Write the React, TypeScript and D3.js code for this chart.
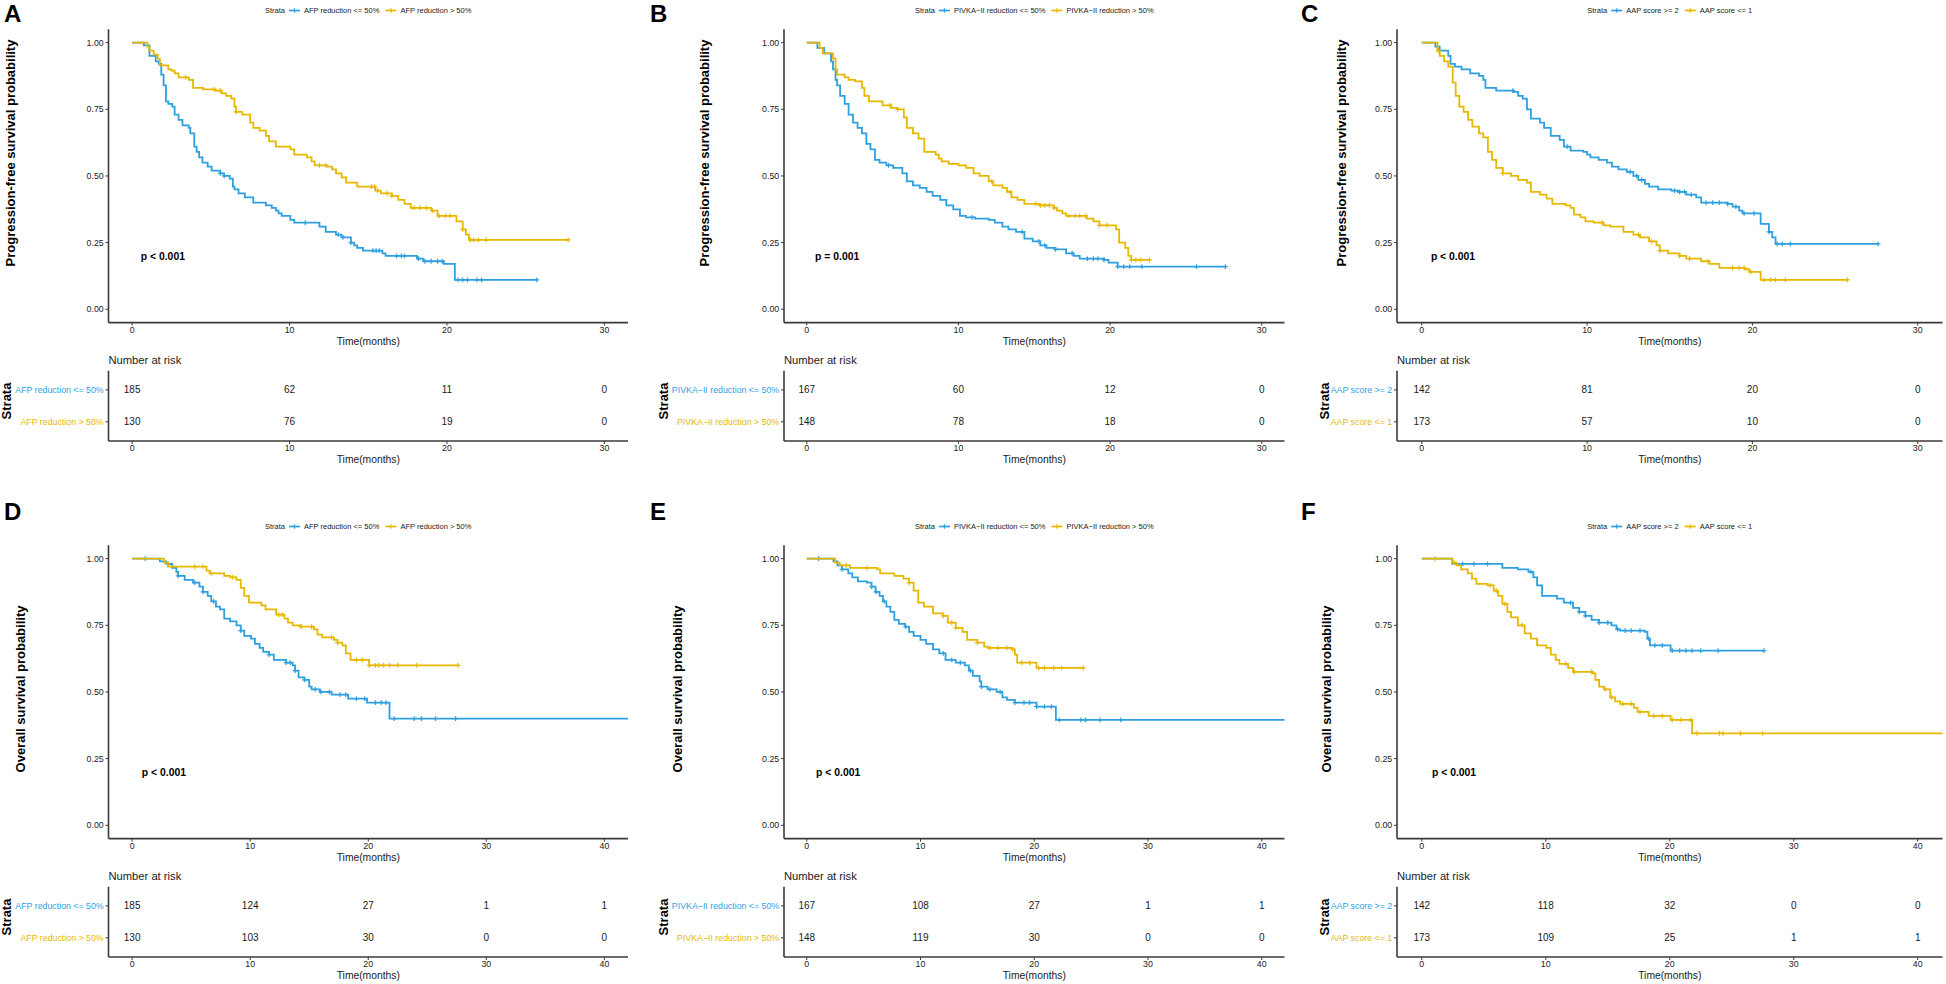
import React from "react";
import * as d3 from "d3";

type Pt = [number, number];

const BLUE = "#2E9FDF";
const GOLD = "#E7B800";
const FONT = '"Liberation Sans", Arial, Helvetica, sans-serif';

// ---- progression-free survival curves: [time (months), survival after the step]
const pfsAfpLow: Pt[] = [[0,1],[0.75,0.99],[1.1,0.95],[1.5,0.93],[1.7,0.92],[1.85,0.88],[2.0,0.84],[2.15,0.78],[2.3,0.77],[2.55,0.76],[2.7,0.73],[2.95,0.71],[3.2,0.69],[3.6,0.68],[3.7,0.66],[3.95,0.61],[4.1,0.59],[4.26,0.57],[4.47,0.55],[4.8,0.535],[5.05,0.52],[5.6,0.51],[5.84,0.5],[6.2,0.49],[6.4,0.46],[6.5,0.45],[6.76,0.435],[7.16,0.42],[7.7,0.4],[8.5,0.39],[8.87,0.38],[9.13,0.37],[9.3,0.36],[9.5,0.35],[10.05,0.335],[10.3,0.325],[11.9,0.31],[12.3,0.29],[12.95,0.28],[13.3,0.27],[13.9,0.25],[14.1,0.24],[14.3,0.23],[14.66,0.22],[15.9,0.21],[16.1,0.2],[18.1,0.19],[18.5,0.18],[19.8,0.17],[20.5,0.11],[25.7,0.11]];
const pfsAfpHigh: Pt[] = [[0,1],[0.97,0.985],[1.1,0.97],[1.37,0.955],[1.63,0.94],[1.76,0.915],[2.3,0.9],[2.5,0.895],[2.7,0.885],[2.95,0.87],[3.6,0.86],[3.87,0.83],[4.5,0.825],[5.3,0.82],[5.7,0.81],[5.97,0.8],[6.3,0.79],[6.5,0.76],[6.6,0.74],[7.0,0.73],[7.5,0.7],[7.7,0.68],[8.1,0.67],[8.5,0.65],[8.7,0.63],[9.13,0.61],[10.05,0.6],[10.3,0.58],[11.1,0.57],[11.4,0.555],[11.6,0.54],[12.4,0.535],[12.7,0.525],[12.95,0.51],[13.3,0.495],[13.6,0.475],[14.3,0.46],[15.45,0.445],[15.8,0.435],[16.5,0.425],[16.9,0.41],[17.3,0.395],[17.7,0.38],[19.0,0.37],[19.4,0.35],[20.6,0.33],[21.0,0.3],[21.2,0.28],[21.4,0.26],[27.7,0.26]];
const pfsPivLow: Pt[] = [[0,1],[0.7,0.98],[1.15,0.96],[1.6,0.93],[1.73,0.9],[1.9,0.86],[2.0,0.84],[2.2,0.8],[2.5,0.77],[2.76,0.73],[3.05,0.7],[3.35,0.68],[3.64,0.66],[3.93,0.62],[4.2,0.6],[4.5,0.56],[4.8,0.55],[5.25,0.54],[5.7,0.53],[6.3,0.51],[6.6,0.48],[7.0,0.465],[7.45,0.455],[7.9,0.44],[8.3,0.425],[8.8,0.41],[9.2,0.39],[9.66,0.375],[10.1,0.35],[10.5,0.345],[11.1,0.34],[12.0,0.335],[12.4,0.325],[12.9,0.31],[13.3,0.3],[13.8,0.29],[14.35,0.265],[14.9,0.255],[15.4,0.24],[15.8,0.23],[16.4,0.225],[17.1,0.21],[17.6,0.2],[18.0,0.19],[19.6,0.185],[19.9,0.175],[20.5,0.16],[27.6,0.16]];
const pfsPivHigh: Pt[] = [[0,1],[0.85,0.98],[1.05,0.96],[1.73,0.94],[1.9,0.9],[2.0,0.88],[2.5,0.87],[2.76,0.86],[3.2,0.855],[3.64,0.83],[3.8,0.8],[4.1,0.78],[5.0,0.765],[5.55,0.755],[6.0,0.75],[6.4,0.72],[6.6,0.68],[7.0,0.66],[7.37,0.64],[7.75,0.59],[8.5,0.58],[8.7,0.565],[8.9,0.555],[9.36,0.545],[10.0,0.54],[10.5,0.53],[11.0,0.51],[11.4,0.5],[12.0,0.48],[12.3,0.465],[12.9,0.455],[13.2,0.44],[13.5,0.42],[13.9,0.41],[14.35,0.395],[15.4,0.39],[16.3,0.38],[16.5,0.37],[16.85,0.36],[17.1,0.35],[18.46,0.34],[18.9,0.33],[19.3,0.315],[20.4,0.3],[20.6,0.25],[21.0,0.23],[21.2,0.2],[21.4,0.185],[22.6,0.185]];
const pfsAapHigh: Pt[] = [[0,1],[0.82,0.985],[1.08,0.97],[1.6,0.95],[1.74,0.92],[2.0,0.91],[2.4,0.9],[2.93,0.885],[3.46,0.875],[3.72,0.86],[3.85,0.83],[4.5,0.82],[5.57,0.815],[5.83,0.8],[6.1,0.79],[6.36,0.75],[6.6,0.715],[7.15,0.7],[7.4,0.68],[7.8,0.65],[8.34,0.635],[8.6,0.61],[9.0,0.595],[9.77,0.59],[10.0,0.58],[10.2,0.57],[10.7,0.56],[11.2,0.55],[11.5,0.535],[11.9,0.525],[12.4,0.515],[12.8,0.5],[13.1,0.485],[13.5,0.47],[13.75,0.46],[14.3,0.45],[15.1,0.445],[15.5,0.44],[16.0,0.43],[16.6,0.42],[16.9,0.4],[18.5,0.395],[18.8,0.385],[19.2,0.37],[19.4,0.36],[20.5,0.32],[21.0,0.29],[21.2,0.27],[21.4,0.245],[27.6,0.245]];
const pfsAapLow: Pt[] = [[0,1],[0.95,0.97],[1.08,0.95],[1.35,0.93],[1.6,0.91],[1.87,0.85],[2.05,0.8],[2.27,0.76],[2.53,0.74],[2.8,0.71],[3.06,0.685],[3.46,0.66],[3.72,0.645],[4.0,0.59],[4.25,0.56],[4.5,0.53],[4.9,0.51],[5.4,0.5],[5.83,0.485],[6.36,0.475],[6.6,0.44],[7.15,0.43],[7.55,0.415],[7.9,0.395],[8.7,0.39],[9.0,0.38],[9.2,0.355],[9.6,0.345],[9.9,0.33],[10.4,0.325],[11.0,0.315],[11.4,0.31],[12.2,0.29],[12.8,0.28],[13.2,0.27],[13.75,0.255],[14.2,0.24],[14.4,0.22],[14.9,0.21],[15.6,0.2],[16.0,0.19],[16.9,0.18],[17.4,0.17],[18.0,0.155],[19.55,0.15],[19.8,0.14],[20.5,0.11],[25.75,0.11]];

// ---- overall survival curves
const osAfpLow: Pt[] = [[0,1],[2.35,0.99],[2.9,0.98],[3.4,0.965],[3.75,0.95],[3.9,0.935],[4.45,0.92],[5.16,0.91],[5.7,0.895],[6.0,0.875],[6.4,0.86],[6.7,0.84],[7.1,0.82],[7.44,0.81],[7.8,0.775],[8.3,0.765],[8.84,0.75],[9.2,0.73],[9.5,0.71],[10.07,0.7],[10.4,0.68],[10.8,0.665],[11.1,0.65],[11.6,0.64],[12.0,0.62],[13.05,0.61],[13.6,0.6],[13.8,0.58],[14.1,0.555],[14.6,0.545],[15.0,0.52],[15.2,0.51],[15.9,0.5],[16.9,0.49],[18.3,0.475],[19.9,0.46],[21.8,0.4],[42,0.4]];
const osAfpHigh: Pt[] = [[0,1],[2.7,0.985],[3.05,0.97],[6.3,0.955],[6.56,0.945],[7.8,0.935],[8.3,0.93],[8.84,0.92],[9.2,0.89],[9.5,0.86],[9.9,0.835],[10.95,0.825],[11.3,0.81],[12.2,0.79],[12.9,0.775],[13.2,0.76],[13.6,0.75],[14.3,0.745],[15.4,0.735],[15.7,0.715],[16.1,0.705],[17.1,0.695],[17.4,0.685],[17.8,0.675],[18.1,0.645],[18.5,0.62],[20.07,0.6],[27.6,0.6]];
const osPivLow: Pt[] = [[0,1],[2.35,0.99],[2.7,0.975],[3.1,0.96],[3.65,0.945],[4.0,0.93],[4.5,0.915],[5.3,0.91],[5.7,0.895],[6.05,0.875],[6.4,0.86],[6.7,0.84],[7.0,0.82],[7.35,0.8],[7.7,0.77],[8.1,0.755],[8.65,0.745],[9.0,0.725],[9.4,0.71],[10.0,0.695],[10.5,0.68],[11.1,0.66],[11.65,0.645],[12.2,0.62],[13.1,0.61],[13.9,0.6],[14.25,0.58],[14.6,0.56],[15.2,0.54],[15.35,0.52],[15.9,0.51],[16.7,0.5],[17.2,0.48],[17.6,0.47],[18.3,0.46],[20.2,0.445],[21.9,0.395],[42,0.395]];
const osPivHigh: Pt[] = [[0,1],[2.5,0.985],[2.9,0.975],[3.8,0.965],[6.2,0.96],[6.45,0.945],[7.7,0.935],[8.5,0.925],[9.0,0.91],[9.4,0.88],[9.8,0.835],[10.3,0.82],[11.1,0.795],[12.0,0.785],[12.4,0.76],[13.1,0.74],[13.7,0.725],[14.1,0.695],[15.0,0.685],[15.6,0.67],[15.9,0.665],[18.1,0.66],[18.3,0.64],[18.5,0.61],[20.2,0.59],[24.3,0.59]];
const osAapHigh: Pt[] = [[0,1],[2.46,0.98],[6.5,0.965],[7.75,0.96],[8.6,0.95],[9.0,0.93],[9.3,0.9],[9.7,0.86],[10.9,0.85],[11.45,0.835],[12.2,0.815],[12.7,0.8],[13.2,0.785],[13.7,0.77],[14.3,0.76],[15.3,0.75],[15.7,0.735],[16.0,0.73],[18.0,0.725],[18.2,0.7],[18.4,0.675],[20.07,0.655],[27.6,0.655]];
const osAapLow: Pt[] = [[0,1],[2.46,0.985],[2.8,0.975],[3.17,0.96],[3.7,0.945],[4.05,0.925],[4.4,0.905],[5.3,0.9],[5.8,0.88],[6.15,0.86],[6.5,0.83],[6.9,0.8],[7.2,0.78],[7.75,0.75],[8.3,0.72],[8.8,0.7],[9.3,0.675],[10.04,0.665],[10.4,0.64],[10.8,0.62],[11.1,0.605],[11.8,0.59],[12.2,0.575],[13.8,0.57],[14.0,0.545],[14.3,0.52],[14.7,0.51],[15.2,0.48],[15.6,0.465],[16.0,0.455],[17.1,0.44],[17.4,0.425],[18.3,0.41],[20.07,0.395],[21.8,0.345],[42,0.345]];

// ---- censoring times (months)
const pfsAfpLowCens = [5.6,5.85,11.0,13.1,13.4,13.9,15.3,15.5,15.7,16.8,17.1,17.3,18.2,18.6,19.0,19.4,19.7,20.7,21.0,21.3,21.9,22.2,25.7];
const pfsAfpHighCens = [3.4,5.2,5.6,6.6,11.9,12.3,15.2,15.4,15.6,16.2,16.5,17.9,18.3,18.7,19.1,19.5,19.9,20.2,21.0,21.5,21.7,22.0,22.5,27.7];
const pfsPivLowCens = [5.4,10.9,14.2,15.3,15.7,16.4,17.5,18.5,18.9,19.2,19.6,20.5,20.9,21.3,22.1,25.7,27.6];
const pfsPivHighCens = [5.5,6.0,12.2,13.4,15.1,15.4,15.7,16.0,16.3,17.3,17.7,18.0,18.4,19.3,19.8,21.4,21.7,22.0,22.6];
const pfsAapHighCens = [5.5,8.8,12.6,13.0,13.3,15.3,15.6,15.9,16.3,17.2,17.6,18.0,18.5,19.0,19.5,20.1,21.0,21.5,21.8,22.3,27.6];
const pfsAapLowCens = [1.0,4.9,10.9,13.1,13.9,14.4,15.6,16.2,17.3,18.8,19.2,19.5,19.9,20.7,21.1,21.4,22.0,25.75];
const osAfpLowCens = [1.1,3.05,3.9,5.3,6.0,6.9,9.2,11.6,13.05,13.4,13.8,14.6,15.5,16.0,16.7,17.6,18.1,19.0,19.7,20.6,21.1,21.5,22.2,23.9,24.5,25.7,27.4];
const osAfpHighCens = [5.3,6.0,6.7,8.5,12.4,12.7,14.3,15.2,16.9,17.4,19.0,19.5,20.1,20.6,20.9,21.3,21.8,22.5,24.1,27.6];
const osPivLowCens = [1.04,3.1,5.7,6.1,6.8,8.7,12.0,12.75,13.5,14.4,15.35,16.1,17.0,18.3,19.1,19.6,20.2,20.9,21.5,22.2,24.1,24.5,25.8,27.6];
const osPivHighCens = [3.46,5.3,9.0,12.0,12.75,13.1,15.0,16.1,16.8,17.6,18.1,18.9,19.6,20.4,20.9,21.7,22.4,24.3];
const osAapHighCens = [3.3,4.2,5.3,8.8,12.0,12.7,13.2,14.3,15.0,15.8,16.4,16.9,17.6,18.3,18.8,19.4,20.2,20.8,21.3,21.8,22.5,23.9,27.6];
const osAapLowCens = [1.06,2.6,5.5,6.0,6.7,8.1,11.6,12.3,13.7,14.8,15.3,16.2,16.9,17.6,18.7,19.4,20.2,20.9,21.7,22.2,24.0,24.3,25.7,27.5];

// ---- number at risk
const riskPfsAfp = [[185, 62, 11, 0], [130, 76, 19, 0]];
const riskPfsPiv = [[167, 60, 12, 0], [148, 78, 18, 0]];
const riskPfsAap = [[142, 81, 20, 0], [173, 57, 10, 0]];
const riskOsAfp = [[185, 124, 27, 1, 1], [130, 103, 30, 0, 0]];
const riskOsPiv = [[167, 108, 27, 1, 1], [148, 119, 30, 0, 0]];
const riskOsAap = [[142, 118, 32, 0, 0], [173, 109, 25, 1, 1]];

const strataAfp = ["AFP reduction <= 50%", "AFP reduction > 50%"];
const strataPiv = ["PIVKA\u2212II reduction <= 50%", "PIVKA\u2212II reduction > 50%"];
const strataAap = ["AAP score >= 2", "AAP score <= 1"];

const pfsTicks = [0, 10, 20, 30];
const osTicks = [0, 10, 20, 30, 40];
const survTicks = [0, 0.25, 0.5, 0.75, 1];

const panels = [
    { letter: "A", col: 0, row: 0, strata: strataAfp, curves: [pfsAfpLow, pfsAfpHigh], cens: [pfsAfpLowCens, pfsAfpHighCens], risk: riskPfsAfp, pval: "p < 0.001" },
    { letter: "B", col: 1, row: 0, strata: strataPiv, curves: [pfsPivLow, pfsPivHigh], cens: [pfsPivLowCens, pfsPivHighCens], risk: riskPfsPiv, pval: "p = 0.001" },
    { letter: "C", col: 2, row: 0, strata: strataAap, curves: [pfsAapHigh, pfsAapLow], cens: [pfsAapHighCens, pfsAapLowCens], risk: riskPfsAap, pval: "p < 0.001" },
    { letter: "D", col: 0, row: 1, strata: strataAfp, curves: [osAfpLow, osAfpHigh], cens: [osAfpLowCens, osAfpHighCens], risk: riskOsAfp, pval: "p < 0.001" },
    { letter: "E", col: 1, row: 1, strata: strataPiv, curves: [osPivLow, osPivHigh], cens: [osPivLowCens, osPivHighCens], risk: riskOsPiv, pval: "p < 0.001" },
    { letter: "F", col: 2, row: 1, strata: strataAap, curves: [osAapHigh, osAapLow], cens: [osAapHighCens, osAapLowCens], risk: riskOsAap, pval: "p < 0.001" },
];

// layout (pixels)
const COLS = [
    { left: 108.5, right: 628, letterX: 4, strataX: 11.3 },
    { left: 784, right: 1284.5, letterX: 650, strataX: 667.5 },
    { left: 1397, right: 1942.5, letterX: 1301, strataX: 1328.5 },
];
const Y_TITLE_X = [[15, 708.5, 1346], [25, 682, 1330.5]];
const Y_TITLES = ["Progression-free survival probability", "Overall survival probability"];
const Y_TITLE_CY = [153, 689];
const LETTER_Y = [22, 520];
const ROW_OFF = 516;
const AXIS = "#3a3a3a";
const TXT = "#1a1a1a";

let ctx: CanvasRenderingContext2D | null = null;
function textWidth(t: string, size: number) {
    if (!ctx) ctx = document.createElement("canvas").getContext("2d");
    if (!ctx) return t.length * size * 0.5;
    ctx.font = `${size}px "Liberation Sans", Arial`;
    return ctx.measureText(t).width;
}

function survAt(curve: Pt[], t: number) {
    let s = 1;
    for (const [ti, si] of curve) if (ti <= t) s = si;
    return s;
}

function Plus({ x, y, r, color }: { x: number; y: number; r: number; color: string }) {
    return (
        <path d={`M${x - r},${y}H${x + r}M${x},${y - r}V${y + r}`} stroke={color} strokeWidth={1.2} fill="none" />
    );
}

function Panel({ p }: { p: (typeof panels)[number] }) {
    const c = COLS[p.col];
    const off = p.row * ROW_OFF;
    const maxT = p.row === 0 ? 30 : 40;
    const ticks = p.row === 0 ? pfsTicks : osTicks;
    const colors = [BLUE, GOLD];

    const x = d3.scaleLinear().domain([-maxT * 0.05, maxT * 1.05]).range([c.left, c.right]);
    const y = d3.scaleLinear().domain([-0.05, 1.05]).range([322.6 + off, 29.3 + off]);
    const stepLine = d3
        .line<Pt>()
        .x((d) => x(d[0]))
        .y((d) => y(d[1]))
        .curve(d3.curveStepAfter);

    const rowY = d3.scalePoint<number>().domain([0, 1]).range([370.7 + off, 441 + off]).padding(0.6);
    const tableTop = 370.7 + off;
    const tableBot = 441 + off;
    const yTop = 29.3 + off;
    const yBot = 322.6 + off;
    const midX = (c.left + c.right) / 2;

    // legend layout
    const lf = 7.5;
    const wStrata = textWidth("Strata", lf);
    const w1 = textWidth(p.strata[0], lf);
    const w2 = textWidth(p.strata[1], lf);
    const total = wStrata + 4 + 11 + 4 + w1 + 6 + 11 + 4 + w2;
    const lx0 = midX - total / 2;
    const ly = 10.5 + off;
    const sym1 = lx0 + wStrata + 4;
    const lab1 = sym1 + 15;
    const sym2 = lab1 + w1 + 6;
    const lab2 = sym2 + 15;

    const pX = p.row === 0 ? 0.55 : 0.82;

    return (
        <g>
            <text x={c.letterX} y={LETTER_Y[p.row]} fontSize={24} fontWeight="bold" fill="#000">
                {p.letter}
            </text>

            {/* legend */}
            <g fontSize={lf} fill={TXT}>
                <text x={lx0} y={ly + 2.7}>Strata</text>
                {[sym1, sym2].map((sx, i) => (
                    <g key={i}>
                        <line x1={sx} x2={sx + 11} y1={ly} y2={ly} stroke={colors[i]} strokeWidth={1.7} />
                        <Plus x={sx + 5.5} y={ly} r={2.2} color={colors[i]} />
                    </g>
                ))}
                <text x={lab1} y={ly + 2.7}>{p.strata[0]}</text>
                <text x={lab2} y={ly + 2.7}>{p.strata[1]}</text>
            </g>

            {/* y title */}
            <text
                transform={`translate(${Y_TITLE_X[p.row][p.col]},${Y_TITLE_CY[p.row]}) rotate(-90)`}
                textAnchor="middle"
                fontSize={13}
                fontWeight="bold"
                fill="#000"
            >
                {Y_TITLES[p.row]}
            </text>

            {/* survival axes */}
            <line x1={c.left} x2={c.left} y1={yTop} y2={yBot} stroke={AXIS} strokeWidth={1.6} />
            <line x1={c.left} x2={c.right} y1={yBot} y2={yBot} stroke={AXIS} strokeWidth={1.6} />
            {survTicks.map((t) => (
                <g key={t}>
                    <line x1={c.left - 3} x2={c.left} y1={y(t)} y2={y(t)} stroke={AXIS} strokeWidth={1} />
                    <text x={c.left - 4.8} y={y(t) + 3} textAnchor="end" fontSize={8.8} fill={TXT}>
                        {t.toFixed(2)}
                    </text>
                </g>
            ))}
            {ticks.map((t) => (
                <g key={t}>
                    <line x1={x(t)} x2={x(t)} y1={yBot} y2={yBot + 3} stroke={AXIS} strokeWidth={1} />
                    <text x={x(t)} y={333.2 + off} textAnchor="middle" fontSize={8.8} fill={TXT}>
                        {t}
                    </text>
                </g>
            ))}
            <text x={midX} y={344.6 + off} textAnchor="middle" fontSize={10.3} fill={TXT}>
                Time(months)
            </text>

            {/* curves */}
            {p.curves.map((cv, i) => (
                <g key={i}>
                    <path d={stepLine(cv) || ""} fill="none" stroke={colors[i]} strokeWidth={1.8} />
                    {p.cens[i].map((ct, j) => (
                        <Plus key={j} x={x(ct)} y={y(survAt(cv, ct))} r={2.4} color={colors[i]} />
                    ))}
                </g>
            ))}

            <text x={x(pX)} y={y(0.2) + 3.6} fontSize={10.4} fontWeight="bold" fill="#000">
                {p.pval}
            </text>

            {/* risk table */}
            <text x={c.left} y={364 + off} fontSize={11.2} fill={TXT}>
                Number at risk
            </text>
            <line x1={c.left} x2={c.left} y1={tableTop} y2={tableBot} stroke={AXIS} strokeWidth={1.6} />
            <line x1={c.left} x2={c.right} y1={tableBot} y2={tableBot} stroke={AXIS} strokeWidth={1.6} />
            {p.risk.map((row, i) => (
                <g key={i}>
                    <line x1={c.left - 3} x2={c.left} y1={rowY(i)} y2={rowY(i)} stroke={AXIS} strokeWidth={1} />
                    <text x={c.left - 4.8} y={(rowY(i) || 0) + 3.1} textAnchor="end" fontSize={8.8} fill={colors[i]}>
                        {p.strata[i]}
                    </text>
                    {row.map((n, k) => (
                        <text key={k} x={x(ticks[k])} y={(rowY(i) || 0) + 3.5} textAnchor="middle" fontSize={10} fill={TXT}>
                            {n}
                        </text>
                    ))}
                </g>
            ))}
            {ticks.map((t) => (
                <g key={t}>
                    <line x1={x(t)} x2={x(t)} y1={tableBot} y2={tableBot + 3} stroke={AXIS} strokeWidth={1} />
                    <text x={x(t)} y={451.2 + off} textAnchor="middle" fontSize={8.8} fill={TXT}>
                        {t}
                    </text>
                </g>
            ))}
            <text x={midX} y={462.8 + off} textAnchor="middle" fontSize={10.3} fill={TXT}>
                Time(months)
            </text>
            <text
                transform={`translate(${c.strataX},${401 + off}) rotate(-90)`}
                textAnchor="middle"
                fontSize={13}
                fontWeight="bold"
                fill="#000"
            >
                Strata
            </text>
        </g>
    );
}

export default function App() {
    return (
        <div style={{ position: "absolute", left: 0, top: 0 }}>
            <svg width={1946} height={984} style={{ display: "block", background: "#fff", fontFamily: FONT }}>
                <rect width={1946} height={984} fill="#fff" />
                {panels.map((p) => (
                    <Panel key={p.letter} p={p} />
                ))}
            </svg>
        </div>
    );
}
